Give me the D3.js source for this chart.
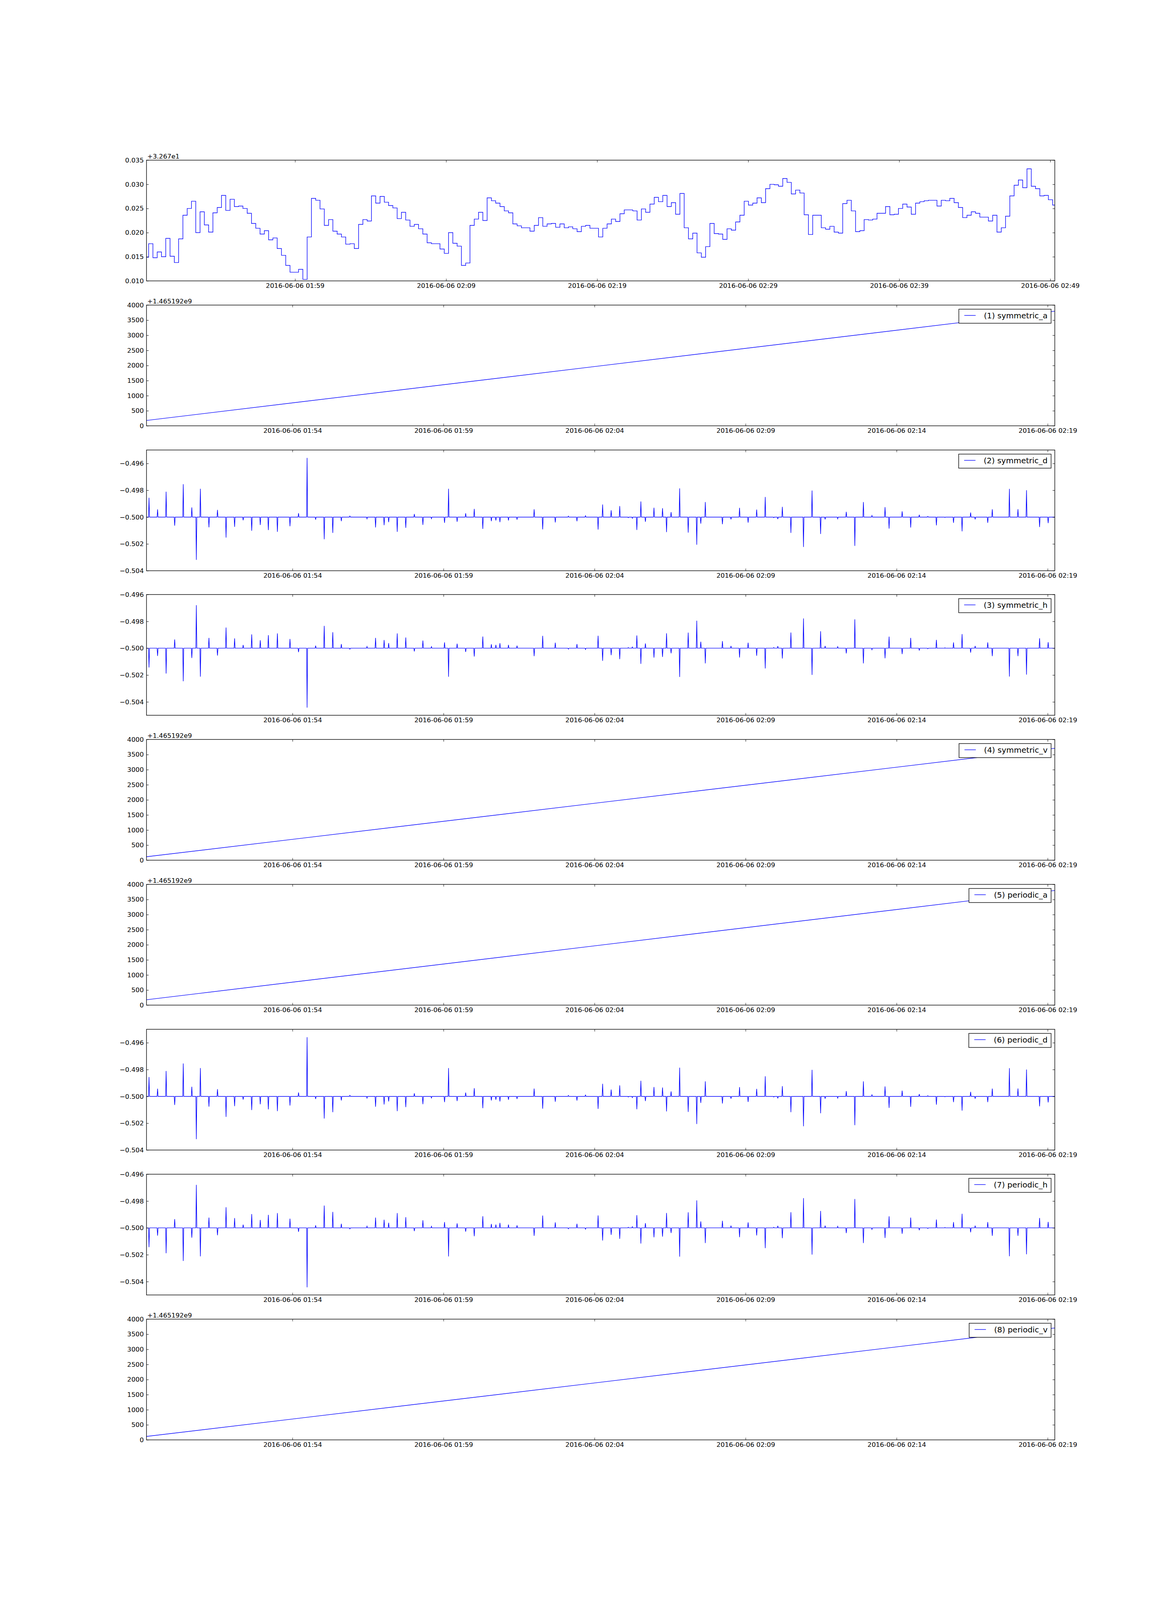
<!DOCTYPE html>
<html>
<head>
<meta charset="utf-8">
<script src="https://cdnjs.cloudflare.com/ajax/libs/d3/7.8.5/d3.min.js"></script>
<style>
  html, body { margin: 0; padding: 0; background: #fff; overflow: hidden; }
  svg { display: block; }
</style>
</head>
<body>
<div id="chart"></div>
<script>
// ---- DATA ----

// top panel: step series, value minus 32.67
let stepValues = [
  0.0149, 0.0177, 0.0148, 0.0160, 0.0150, 0.0188, 0.0151, 0.0138, 0.0187, 0.0236,
  0.0250, 0.0265, 0.0200, 0.0243, 0.0216, 0.0201, 0.0241, 0.0252, 0.0277, 0.0246,
  0.0269, 0.0254, 0.0255, 0.0250, 0.0240, 0.0219, 0.0209, 0.0197, 0.0204, 0.0185,
  0.0189, 0.0167, 0.0153, 0.0132, 0.0118, 0.0118, 0.0124, 0.0103, 0.0191, 0.0271,
  0.0267, 0.0249, 0.0215, 0.0227, 0.0203, 0.0197, 0.0191, 0.0176, 0.0177, 0.0167,
  0.0217, 0.0227, 0.0224, 0.0276, 0.0261, 0.0275, 0.0263,
  0.0256, 0.0251, 0.0229, 0.0242, 0.0226, 0.0213, 0.0217, 0.0208, 0.0197, 0.0179,
  0.0177, 0.0177, 0.0166, 0.0157, 0.0200, 0.0178, 0.0172, 0.0132, 0.0137, 0.0215,
  0.0228, 0.0242, 0.0225, 0.0272, 0.0266, 0.0261, 0.0254, 0.0245, 0.0241, 0.0218,
  0.0214, 0.0210, 0.0210, 0.0203, 0.0215, 0.0231, 0.0213, 0.0218, 0.0219, 0.0211,
  0.0218, 0.0210, 0.0212, 0.0208, 0.0202, 0.0213, 0.0215, 0.0209, 0.0209, 0.0191,
  0.0209, 0.0218, 0.0228, 0.0223, 0.0239, 0.0247, 0.0247, 0.0245, 0.0226, 0.0249,
  0.0242, 0.0259, 0.0273, 0.0264, 0.0277, 0.0254, 0.0262, 0.0238, 0.0281, 0.0210,
  0.0187, 0.0199, 0.0158, 0.0149, 0.0171, 0.0219, 0.0198, 0.0197, 0.0186, 0.0208,
  0.0205, 0.0222, 0.0236, 0.0265, 0.0257, 0.0261, 0.0272, 0.0262, 0.0291, 0.0300,
  0.0299, 0.0296,
  0.0312, 0.0304, 0.0280, 0.0288, 0.0282, 0.0237, 0.0196, 0.0236, 0.0236, 0.0210,
  0.0207, 0.0213, 0.0201, 0.0199, 0.0260, 0.0267, 0.0245, 0.0202, 0.0204, 0.0227,
  0.0226, 0.0228, 0.0240, 0.0240, 0.0254, 0.0237, 0.0238, 0.0250, 0.0259, 0.0253,
  0.0238, 0.0261, 0.0264, 0.0266, 0.0267, 0.0267, 0.0255, 0.0267, 0.0266, 0.0271,
  0.0262, 0.0252, 0.0231, 0.0236, 0.0243, 0.0240, 0.0232, 0.0232, 0.0224, 0.0236,
  0.0201, 0.0210, 0.0234, 0.0276, 0.0298, 0.0309, 0.0293, 0.0332, 0.0296, 0.0291,
  0.0276, 0.0277, 0.0268, 0.0257
];

// spike series: seconds after 01:49:10 where the value leaves -0.5
let spikeSeconds = [
  5, 22, 39, 56, 73, 90, 99, 107, 124, 141,
  158, 175, 192, 209, 226, 242, 260, 285, 302, 319,
  336, 353, 370, 387, 404, 438, 455, 472, 481, 498,
  515, 532, 549, 566, 592, 600,
  617, 634, 651, 668, 685, 694, 702, 719, 736, 770,
  787, 812, 838, 855, 872, 897, 906, 923, 940, 957,
  965, 974, 982, 991, 1008, 1025, 1033, 1042, 1059, 1076,
  1093, 1101, 1110, 1144, 1161, 1178, 1195, 1212, 1229, 1246,
  1254,
  1263, 1280, 1305, 1322, 1339, 1348, 1373, 1390, 1407, 1424,
  1441, 1467, 1475, 1501, 1518, 1535, 1552, 1569, 1586, 1603,
  1620, 1637, 1646, 1671, 1680, 1714, 1731, 1748, 1774, 1791
];

let symmetricD = [
  -0.49856, -0.49943, -0.49811, -0.50064, -0.49755, -0.49928, -0.50319, -0.49789, -0.50076, -0.49946,
  -0.50153, -0.50073, -0.50024, -0.50102, -0.50059, -0.50097, -0.50110, -0.50068, -0.49971, -0.49559,
  -0.50019, -0.50165, -0.50118, -0.50030, -0.49992, -0.50013, -0.50077, -0.50060, -0.50038, -0.50110,
  -0.50080, -0.49977, -0.50058, -0.50012, -0.50043, -0.49789,
  -0.50035, -0.49972, -0.49939, -0.50088, -0.50030, -0.50025, -0.50038, -0.50025, -0.50019, -0.49942,
  -0.50092, -0.50040, -0.49993, -0.50031, -0.49990, -0.50093, -0.49906, -0.49949, -0.49918, -0.50005,
  -0.50009, -0.50096, -0.49884, -0.50035, -0.49930, -0.49934, -0.50112, -0.49963, -0.49786, -0.50116,
  -0.50206, -0.50049, -0.49888, -0.50053, -0.50017, -0.49931, -0.50041, -0.49944, -0.49850, -0.50005,
  -0.50015,
  -0.49924, -0.50118, -0.50223, -0.49802, -0.50126, -0.50017, -0.50013, -0.49961, -0.50215, -0.49888,
  -0.49988, -0.49926, -0.50086, -0.49957, -0.50078, -0.49983, -0.49995, -0.50062, -0.50003, -0.50043,
  -0.50106, -0.49966, -0.50017, -0.50043, -0.49942, -0.49790, -0.49941, -0.49800, -0.50074, -0.50045
];

let symmetricH = [
  -0.50144, -0.50058, -0.50189, -0.49935, -0.50246, -0.50073, -0.49679, -0.50212, -0.49923, -0.50055,
  -0.49846, -0.49927, -0.49976, -0.49897, -0.49941, -0.49903, -0.49890, -0.49931, -0.50029, -0.50443,
  -0.49981, -0.49834, -0.49881, -0.49969, -0.50008, -0.49987, -0.49923, -0.49939, -0.49962, -0.49890,
  -0.49920, -0.50024, -0.49943, -0.49988, -0.49957, -0.50213,
  -0.49966, -0.50028, -0.50062, -0.49913, -0.49971, -0.49975, -0.49963, -0.49975, -0.49981, -0.50059,
  -0.49908, -0.49959, -0.50007, -0.49969, -0.50010, -0.49907, -0.50094, -0.50052, -0.50082, -0.49995,
  -0.49991, -0.49905, -0.50117, -0.49965, -0.50070, -0.50065, -0.49889, -0.50038, -0.50214, -0.49884,
  -0.49795, -0.49952, -0.50113, -0.49947, -0.49983, -0.50069, -0.49959, -0.50056, -0.50151, -0.49995,
  -0.49985,
  -0.50077, -0.49883, -0.49778, -0.50199, -0.49874, -0.49983, -0.49988, -0.50039, -0.49785, -0.50113,
  -0.50012, -0.50075, -0.49914, -0.50044, -0.49923, -0.50017, -0.50005, -0.49938, -0.49997, -0.49957,
  -0.49895, -0.50033, -0.49983, -0.49957, -0.50059, -0.50211, -0.50059, -0.50197, -0.49926, -0.49955
];

let periodicD = symmetricD.slice();
let periodicH = symmetricH.slice();

// straight lines: value at left edge, value at right edge (minus 1.465192e9)
let symmetricA = [178, 3798];
let symmetricV = [114, 3707];
let periodicA = [178, 3798];
let periodicV = [114, 3707];

let legendLabels = ['(1) symmetric_a', '(2) symmetric_d', '(3) symmetric_h', '(4) symmetric_v',
                    '(5) periodic_a', '(6) periodic_d', '(7) periodic_h', '(8) periodic_v'];

let xTicksLong = ['01:59', '02:09', '02:19', '02:29', '02:39', '02:49'];
let xTicksShort = ['01:54', '01:59', '02:04', '02:09', '02:14', '02:19'];

let yTicksStep = ['0.010', '0.015', '0.020', '0.025', '0.030', '0.035'];
let yTicksCount = ['0', '500', '1000', '1500', '2000', '2500', '3000', '3500', '4000'];
let yTicksSpike = ['\u22120.504', '\u22120.502', '\u22120.500', '\u22120.498', '\u22120.496'];

// PLOTTING VARIABLES
let width = 3000, height = 8000;
// the page is laid out for 8000px; squeeze vertically if the window is shorter
let vScale = Math.min(1, (window.innerHeight || height) / height);
let margin = {left: 375, top: 800 * vScale};
let plotW = 2325, plotH = 603.77 * vScale, gap = 120.76 * vScale;
let padTop = 60, padBottom = 60;
let fontFamily = '"DejaVu Sans", "Liberation Sans", sans-serif';
let tickFont = 16.67, legendFont = 20;
let blue = '#0000ff';

let dataStart = new Date(2016, 5, 6, 1, 49, 10);
let longEnd = new Date(+dataStart + 3608.4e3);
let shortEnd = new Date(+dataStart + 1804.2e3);
let stepDt = 3608.4e3 / (stepValues.length - 1);

function atTime(hm) {
    let p = hm.split(':').map(Number);
    return new Date(2016, 5, 6, p[0], p[1], 0);
}

function spikePoints(vals) {
    let pts = [{t: dataStart, v: -0.5}];
    spikeSeconds.forEach((s, i) => {
        pts.push({t: new Date(+dataStart + (s - 1) * 1000), v: -0.5});
        pts.push({t: new Date(+dataStart + s * 1000), v: vals[i]});
        pts.push({t: new Date(+dataStart + (s + 1) * 1000), v: -0.5});
    });
    pts.push({t: shortEnd, v: -0.5});
    return pts;
}

function linePoints(ends) {
    return [{t: dataStart, v: ends[0]}, {t: shortEnd, v: ends[1]}];
}

let stepPoints = stepValues.map((v, i) => ({t: new Date(+dataStart + i * stepDt), v: v}));

let panels = [
    {pts: stepPoints, curve: d3.curveStep, end: longEnd, xt: xTicksLong, yt: yTicksStep, yd: [0.010, 0.035], offset: '+3.267e1', legend: null},
    {pts: linePoints(symmetricA), curve: d3.curveLinear, end: shortEnd, xt: xTicksShort, yt: yTicksCount, yd: [0, 4000], offset: '+1.465192e9', legend: legendLabels[0]},
    {pts: spikePoints(symmetricD), curve: d3.curveLinear, end: shortEnd, xt: xTicksShort, yt: yTicksSpike, yd: [-0.504, -0.495], offset: null, legend: legendLabels[1]},
    {pts: spikePoints(symmetricH), curve: d3.curveLinear, end: shortEnd, xt: xTicksShort, yt: yTicksSpike, yd: [-0.505, -0.496], offset: null, legend: legendLabels[2]},
    {pts: linePoints(symmetricV), curve: d3.curveLinear, end: shortEnd, xt: xTicksShort, yt: yTicksCount, yd: [0, 4000], offset: '+1.465192e9', legend: legendLabels[3]},
    {pts: linePoints(periodicA), curve: d3.curveLinear, end: shortEnd, xt: xTicksShort, yt: yTicksCount, yd: [0, 4000], offset: '+1.465192e9', legend: legendLabels[4]},
    {pts: spikePoints(periodicD), curve: d3.curveLinear, end: shortEnd, xt: xTicksShort, yt: yTicksSpike, yd: [-0.504, -0.495], offset: null, legend: legendLabels[5]},
    {pts: spikePoints(periodicH), curve: d3.curveLinear, end: shortEnd, xt: xTicksShort, yt: yTicksSpike, yd: [-0.505, -0.496], offset: null, legend: legendLabels[6]},
    {pts: linePoints(periodicV), curve: d3.curveLinear, end: shortEnd, xt: xTicksShort, yt: yTicksCount, yd: [0, 4000], offset: '+1.465192e9', legend: legendLabels[7]}
];

let page = d3.select('#chart')
    .style('position', 'relative')
    .style('width', width + 'px')
    .style('height', Math.round(height * vScale) + 'px')
    .style('background', '#fff');

let timeFmt = d3.timeFormat('%Y-%m-%d %H:%M');

panels.forEach((p, i) => {
    let top = margin.top + i * (plotH + gap);
    let svg = page.append('svg')
        .style('position', 'absolute')
        .style('left', '0px')
        .style('top', (top - padTop) + 'px')
        .attr('width', width)
        .attr('height', plotH + padTop + padBottom);

    let g = svg.append('g').attr('transform', `translate(${margin.left},${padTop})`);

    let x = d3.scaleTime().domain([dataStart, p.end]).range([0, plotW]);
    let y = d3.scaleLinear().domain(p.yd).range([plotH, 0]);

    let xVals = p.xt.map(atTime);
    let yVals = p.yt.map(s => +s.replace('\u2212', '-'));

    g.append('clipPath').attr('id', 'clip' + i)
        .append('rect').attr('width', plotW).attr('height', plotH);

    let line = d3.line().x(d => x(d.t)).y(d => y(d.v)).curve(p.curve);
    g.append('path')
        .datum(p.pts)
        .attr('clip-path', `url(#clip${i})`)
        .attr('d', line)
        .attr('fill', 'none')
        .attr('stroke', blue)
        .attr('stroke-width', 1.4);

    // axes, ticks inward on all four sides
    let axes = [
        g.append('g').attr('transform', `translate(0,${plotH})`)
            .call(d3.axisBottom(x).tickValues(xVals).tickFormat(timeFmt).tickSizeInner(-5.6).tickSizeOuter(0).tickPadding(5.6)),
        g.append('g')
            .call(d3.axisTop(x).tickValues(xVals).tickFormat('').tickSizeInner(-5.6).tickSizeOuter(0)),
        g.append('g')
            .call(d3.axisLeft(y).tickValues(yVals).tickFormat((d, k) => p.yt[k]).tickSizeInner(-5.6).tickSizeOuter(0).tickPadding(7)),
        g.append('g').attr('transform', `translate(${plotW},0)`)
            .call(d3.axisRight(y).tickValues(yVals).tickFormat('').tickSizeInner(-5.6).tickSizeOuter(0))
    ];
    axes.forEach(a => {
        a.attr('font-family', fontFamily).attr('font-size', tickFont);
        a.select('.domain').remove();
        a.selectAll('.tick line').attr('stroke', '#000').attr('stroke-width', 1);
        a.selectAll('.tick text').attr('fill', '#000');
    });

    g.append('rect')
        .attr('width', plotW)
        .attr('height', plotH)
        .attr('fill', 'none')
        .attr('stroke', '#000')
        .attr('stroke-width', 1.4);

    if (p.offset) {
        g.append('text')
            .attr('x', 2)
            .attr('y', -4)
            .attr('font-family', fontFamily)
            .attr('font-size', tickFont)
            .text(p.offset);
    }

    if (p.legend) {
        let lg = g.append('g');
        let box = lg.append('rect');
        let txt = lg.append('text')
            .attr('font-family', fontFamily)
            .attr('font-size', legendFont)
            .text(p.legend);
        let tw = txt.node().getComputedTextLength();
        let bw = 64 + tw + 9;
        let bx = plotW - 9.5 - bw;
        box.attr('x', bx).attr('y', 10.5)
            .attr('width', bw).attr('height', 36)
            .attr('fill', '#fff')
            .attr('stroke', '#000')
            .attr('stroke-width', 1.4);
        lg.append('line')
            .attr('x1', bx + 14).attr('x2', bx + 43)
            .attr('y1', 26.5).attr('y2', 26.5)
            .attr('stroke', blue)
            .attr('stroke-width', 1.4);
        txt.attr('x', bx + 64).attr('y', 33.5);
    }
});
</script>
</body>
</html>
